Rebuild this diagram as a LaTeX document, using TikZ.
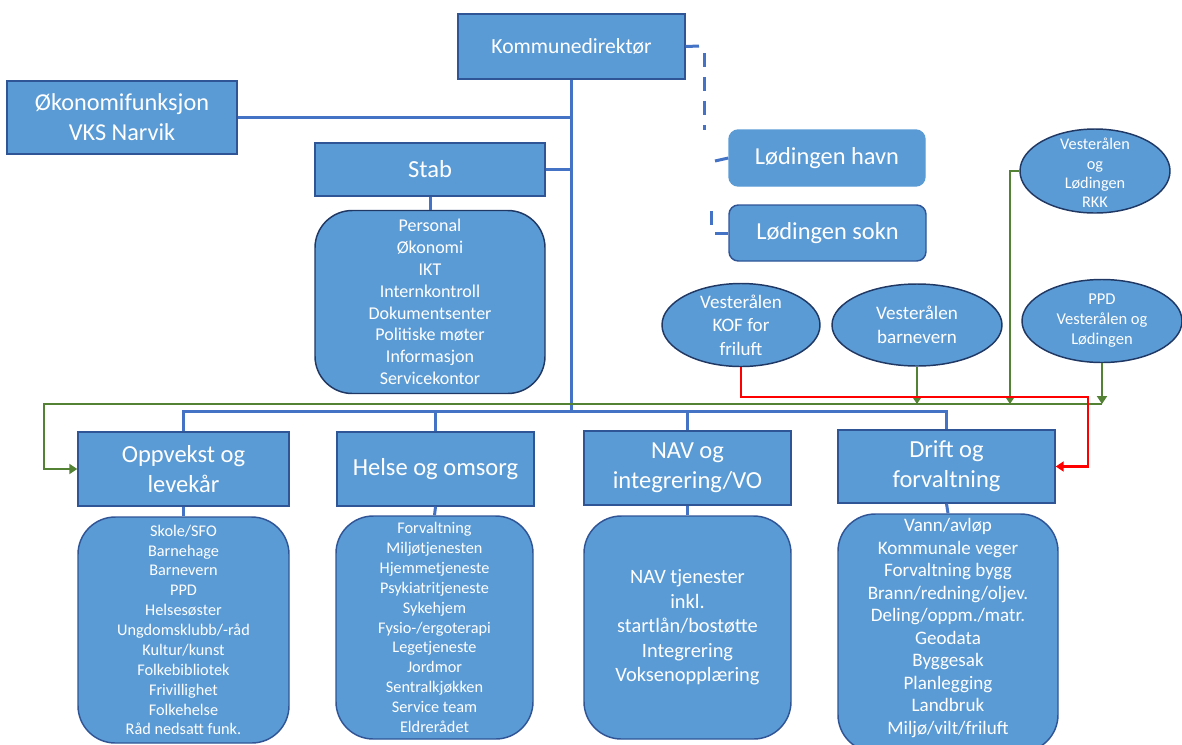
\documentclass[tikz,border=0pt]{standalone}
\usepackage{fontspec}
\setmainfont{Carlito}
\usetikzlibrary{arrows.meta,shapes.geometric}
\definecolor{bfill}{HTML}{5B9BD5}
\definecolor{bedge}{HTML}{2F5597}
\definecolor{bdark}{HTML}{203864}
\definecolor{bline}{HTML}{4472C4}
\definecolor{gline}{HTML}{548235}
\definecolor{rline}{HTML}{FF0000}
\newcommand{\fsz}[2]{\fontsize{#1}{#2}\selectfont}
\begin{document}
\begin{tikzpicture}[x=0.75pt,y=-0.75pt,
  box/.style={draw=bedge, fill=bfill, line width=1.1pt, inner sep=0pt, text=white, align=center},
  lstbox/.style={box, rounded corners=28pt},
  ell/.style={ellipse, draw=bdark, fill=bfill, line width=1.1pt, inner sep=0pt},
  etxt/.style={text=white, align=center, inner sep=0pt},
  bl/.style={draw=bline, line width=2.25pt},
  gr/.style={draw=gline, line width=1.5pt},
  rd/.style={draw=rline, line width=1.9pt},
  tip/.style={-{Triangle[length=6pt,width=7.5pt]}}
]
\useasboundingbox (0,0) rectangle (1182,744);

% top level
\node[box, font=\fsz{16.2}{19.5}, minimum width=170.25pt, minimum height=48.75pt] (kd) at (571.5,46.5) {Kommunedirektør};
\node[box, font=\fsz{18.2}{22.5}, minimum width=172.5pt, minimum height=54.75pt] (oko) at (122,117.5) {Økonomifunksjon\\VKS Narvik};
\node[box, font=\fsz{18.4}{22.5}, minimum width=172.5pt, minimum height=39.75pt] (stab) at (430,169.5) {Stab};
\node[lstbox, draw=bdark, font=\fsz{13.5}{16.4}, minimum width=172.5pt, minimum height=137.25pt] (stablist) at (430,302)
  {Personal\\Økonomi\\IKT\\Internkontroll\\Dokumentsenter\\Politiske møter\\Informasjon\\Servicekontor};

\node[box, draw=bfill, rounded corners=7pt, font=\fsz{18.3}{22}, minimum width=147pt, minimum height=42pt] (havn) at (827,158) {Lødingen havn};
\node[box, rounded corners=7pt, font=\fsz{18.3}{22}, minimum width=147.75pt, minimum height=42pt] (sokn) at (827.5,233) {Lødingen sokn};

% ellipses
\node[ell, minimum width=112.5pt, minimum height=63pt] (rkk) at (1095,171) {};
\node[etxt, font=\fsz{12.2}{14.6}] at (1095,173) {Vesterålen\\og\\Lødingen\\RKK};
\node[ell, minimum width=118.5pt, minimum height=62.25pt] (kof) at (741,325) {};
\node[etxt, font=\fsz{14.3}{17.6}] at (kof) {Vesterålen\\KOF for\\friluft};
\node[ell, minimum width=127.5pt, minimum height=61.5pt] (bv) at (917,325) {};
\node[etxt, font=\fsz{14.3}{17.6}] at (bv) {Vesterålen\\barnevern};
\node[ell, minimum width=120pt, minimum height=62.25pt] (ppd) at (1102,321) {};
\node[etxt, font=\fsz{12.4}{15}] at (ppd) {PPD\\Vesterålen og\\Lødingen};

% second level
\node[box, font=\fsz{18.4}{22.5}, minimum width=158.25pt, minimum height=55.5pt] (opp) at (183.5,469) {Oppvekst og\\levekår};
\node[box, font=\fsz{18.4}{22.5}, minimum width=147.75pt, minimum height=55.5pt] (helse) at (435.5,469) {Helse og omsorg};
\node[box, font=\fsz{18.4}{22.5}, minimum width=155.25pt, minimum height=55.5pt] (nav) at (687.5,468) {NAV og\\integrering/VO};
\node[box, font=\fsz{18.4}{22.5}, minimum width=162.75pt, minimum height=54.75pt] (drift) at (946.5,466.5) {Drift og\\forvaltning};

\node[lstbox, font=\fsz{12.2}{14.9}, minimum width=158.25pt, minimum height=169.5pt] (opplist) at (183.5,630)
  {Skole/SFO\\Barnehage\\Barnevern\\PPD\\Helsesøster\\Ungdomsklubb/-råd\\Kultur/kunst\\Folkebibliotek\\Frivillighet\\Folkehelse\\Råd nedsatt funk.};
\node[lstbox, font=\fsz{12.2}{14.9}, minimum width=147.75pt, minimum height=167.25pt] (helselist) at (434.5,627.5)
  {Forvaltning\\Miljøtjenesten\\Hjemmetjeneste\\Psykiatritjeneste\\Sykehjem\\Fysio-/ergoterapi\\Legetjeneste\\Jordmor\\Sentralkjøkken\\Service team\\Eldrerådet};
\node[lstbox, font=\fsz{15.3}{18.4}, minimum width=155.25pt, minimum height=167.25pt] (navlist) at (687.5,627.5)
  {NAV tjenester\\inkl.\\startlån/bostøtte\\Integrering\\Voksenopplæring};
\node[box, rounded corners=28pt, minimum width=165pt, minimum height=178.5pt] (driftlist) at (948,633) {};
\node[etxt, font=\fsz{14.3}{16.9}] at (948,628)
  {Vann/avløp\\Kommunale veger\\Forvaltning bygg\\Brann/redning/oljev.\\Deling/oppm./matr.\\Geodata\\Byggesak\\Planlegging\\Landbruk\\Miljø/vilt/friluft};

% blue hierarchy
\coordinate (busy) at (0,411);
\draw[bl] (kd.south) -- (kd.south |- busy);
\draw[bl] (oko.east) -- (oko.east -| kd.south);
\draw[bl] (stab.east) -- (stab.east -| kd.south);
\draw[bl] (stab.south) -- (stablist.north);
\draw[bl] (opp.north) -- (opp.north |- busy) -- (drift.north |- busy) -- (drift.north);
\draw[bl] (helse.north) -- (helse.north |- busy);
\draw[bl] (nav.north) -- (nav.north |- busy);
\draw[bl] (opp.south) -- (opplist.north);
\draw[bl] (helse.south) -- (helselist.north);
\draw[bl] (nav.south) -- (navlist.north);
\draw[bl] (drift.south) -- (driftlist.north);

% broken dashed link to havn / sokn
\coordinate (d1) at (699,46);
\coordinate (d2) at (704,53);
\coordinate (d3) at (704,130);
\coordinate (h1) at (715,161);
\coordinate (s1) at (711,211);
\coordinate (s2) at (711,225);
\coordinate (s3) at (715,233);
\draw[bl] (kd.east) -- (d1);
\draw[bl, dash pattern=on 10.5pt off 7.5pt] (d2) -- (d3);
\draw[bl] (h1) -- (havn.west);
\draw[bl] (s1) -- (s2);
\draw[bl] (s3) -- (sokn.west);

% green cooperation lines
\coordinate (gy) at (0,404);
\coordinate (gl) at (44,404);
\coordinate (rk) at (1010,171);
\draw[gr, tip] (ppd.south) -- (ppd.south |- gy);
\draw[gr, tip] (ppd.south |- gy) -- (gl) -- (gl |- opp.west) -- (opp.west);
\draw[gr, tip] (bv.south) -- (bv.south |- gy);
\draw[gr, tip] (rkk.west) -- (rk) -- (rk |- gy);

% red line
\coordinate (ry) at (0,397);
\coordinate (rx) at (1088,397);
\draw[rd, tip] (kof.south) -- (kof.south |- ry) -- (rx) -- (rx |- drift.east) -- (drift.east);
\end{tikzpicture}
\end{document}
